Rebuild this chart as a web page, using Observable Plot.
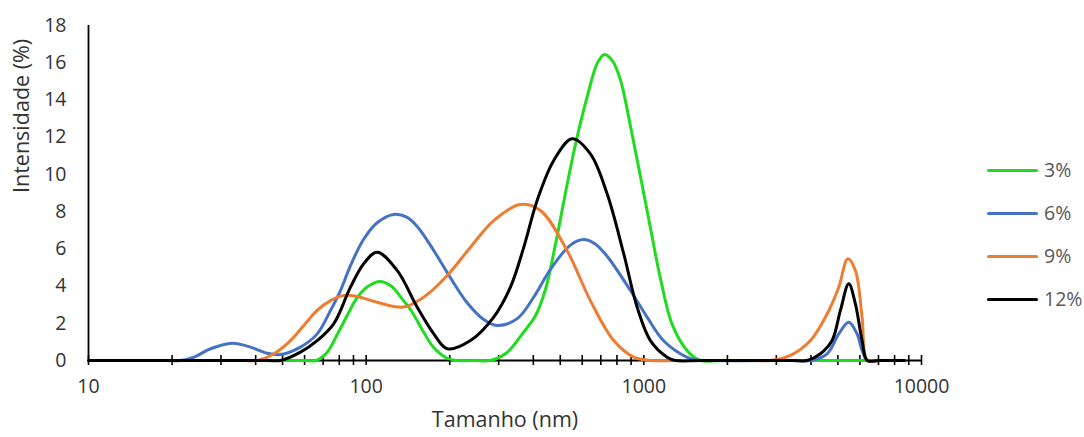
<!DOCTYPE html>
<html>
<head>
<meta charset="utf-8">
<script src="https://cdn.jsdelivr.net/npm/d3@7"></script>
<script src="https://cdn.jsdelivr.net/npm/@observablehq/plot@0.6"></script>
<style>
  html, body { margin: 0; padding: 0; background: #fff; }
  #wrap { position: relative; width: 1084px; height: 437px; font-family: "Open Sans", sans-serif; }
  #legend { position: absolute; left: 987px; top: 0; }
  .item { position: absolute; left: 0; display: flex; align-items: center; white-space: nowrap; }
  .sw { width: 51px; height: 3px; border-radius: 2px; margin-right: 6px; }
  .lab { font-size: 19.5px; color: #595959; line-height: 1; }
</style>
</head>
<body>
<div id="wrap"></div>
<script>
// Series labels and colours
const seriesNames = ["3%", "6%", "9%", "12%"];
const seriesColors = ["#1fdc1f", "#4472C4", "#ED7D31", "#000000"];

// X ticks (log scale)
const xLabelTicks = [10, 100, 1000, 10000];
const xMinorTicks = [10,20,30,40,50,60,70,80,90,100,200,300,400,500,600,700,800,900,1000,2000,3000,4000,5000,6000,7000,8000,9000,10000];
const yTicks = [0, 2, 4, 6, 8, 10, 12, 14, 16, 18];

// 3%
const size3 = [10, 60, 66, 72, 79, 86, 93, 102, 112, 123, 135, 145, 160, 175, 196, 213, 250, 280, 320, 368, 407, 442, 480, 522, 567, 626, 681, 721, 771, 823, 895, 972, 1057, 1148, 1268, 1447, 1600, 1900, 6900];
const val3  = [0, 0, 0, 0.4, 1.45, 2.5, 3.4, 4.0, 4.25, 4.0, 3.3, 2.7, 1.6, 0.7, 0.12, 0, 0, 0, 0.4, 1.5, 2.4, 3.8, 6.2, 9.0, 11.6, 14.2, 16.0, 16.44, 16.1, 15.1, 12.6, 9.9, 7.1, 4.4, 1.9, 0.45, 0, 0, 0];

// 6%
const size6 = [10, 19, 21.4, 24, 27.5, 32.9, 38.3, 44, 49, 58, 66.6, 74.4, 80.8, 87.8, 97.8, 109.5, 125.4, 140, 152.7, 175.3, 201, 231, 265, 296, 350, 401, 461, 544, 607.7, 670, 737.5, 895, 1027.6, 1176, 1354, 1510, 1800, 3500, 3981, 4571, 5035, 5470, 5861, 6109, 6376, 7000, 8700];
const val6  = [0, 0, 0, 0.18, 0.63, 0.93, 0.72, 0.39, 0.32, 0.72, 1.43, 2.69, 3.76, 5.1, 6.5, 7.4, 7.85, 7.7, 7.2, 5.9, 4.45, 3.1, 2.2, 1.88, 2.25, 3.4, 4.9, 6.2, 6.5, 6.25, 5.6, 3.76, 2.33, 1.07, 0.36, 0.05, 0, 0, 0, 0.36, 1.43, 2.06, 1.43, 0.54, 0, 0, 0];

// 9%
const size9 = [10, 36, 40.5, 46.5, 53.4, 59.6, 66.6, 74.4, 83.1, 92.8, 109.5, 136.6, 161, 196, 237.5, 288, 359.3, 424, 529, 642, 779, 920, 1057, 1300, 2500, 2857, 3373, 3981, 4571, 5035, 5426, 5780, 6109, 6376, 7000, 8700];
const val9  = [0, 0, 0, 0.36, 1.07, 1.88, 2.69, 3.22, 3.49, 3.44, 3.13, 2.87, 3.4, 4.57, 6.09, 7.52, 8.38, 8.06, 5.91, 3.22, 1.07, 0.18, 0, 0, 0, 0, 0.27, 1.07, 2.5, 3.94, 5.46, 4.84, 2.33, 0, 0, 0];

// 12%
const size12 = [10, 44, 49, 58, 66.6, 76.4, 87.8, 98, 109.5, 129.3, 152.6, 175.2, 196, 237.5, 288, 330.8, 369.6, 412.8, 473.8, 551.7, 642, 737.5, 846.6, 945.6, 1056, 1213, 1300, 1600, 3400, 3869, 4325, 4763, 5105, 5470, 5780, 6109, 6376, 7000, 8700];
const val12  = [0, 0, 0, 0.45, 1.07, 1.97, 3.94, 5.2, 5.82, 4.84, 2.87, 1.43, 0.63, 1.07, 2.33, 3.94, 6.09, 8.6, 10.75, 11.91, 11.1, 8.96, 5.73, 2.87, 1.07, 0.18, 0, 0, 0, 0, 0.36, 1.07, 2.69, 4.12, 3.04, 1.07, 0, 0, 0];

const allSizes = [size3, size6, size9, size12];
const allVals = [val3, val6, val9, val12];
const rows = allSizes.flatMap((sz, i) => sz.map((s, j) => ({series: seriesNames[i], size: s, value: allVals[i][j]})));

const font = "Open Sans, sans-serif";
const plot = Plot.plot({
  width: 1084,
  height: 437,
  marginLeft: 88,
  marginRight: 163,
  marginTop: 25,
  marginBottom: 77,
  style: {fontFamily: font, fontSize: "19.5px", color: "#333", background: "#fff"},
  x: {type: "log", domain: [10, 10000]},
  y: {domain: [0, 18]},
  color: {domain: seriesNames, range: seriesColors},
  marks: [
    Plot.axisY({ticks: yTicks, tickSize: 0, tickPadding: 22, tickFormat: d => String(d), label: null, fill: "#333"}),
    Plot.axisX({ticks: xLabelTicks, tickSize: 0, tickPadding: 19, tickFormat: d => String(d), label: null, fill: "#333"}),
    Plot.axisX({ticks: xMinorTicks, tickSize: 10, dy: -5, tickFormat: () => "", label: null, stroke: "#000", strokeWidth: 1.6}),
    Plot.ruleY([0], {stroke: "#000", strokeWidth: 1.8}),
    Plot.ruleX([10], {stroke: "#000", strokeWidth: 1.8}),
    Plot.line(rows, {x: "size", y: "value", z: "series", stroke: "series", strokeWidth: 3, curve: "catmull-rom"}),
    Plot.text(["Intensidade (%)"], {frameAnchor: "left", rotate: -90, dx: -66, fontSize: 21.5, fill: "#333"}),
    Plot.text(["Tamanho (nm)"], {frameAnchor: "bottom", dy: 66, fontSize: 21.5, fill: "#333"})
  ]
});

const wrap = document.getElementById("wrap");
wrap.appendChild(plot);
const legend = document.createElement("div");
legend.id = "legend";
const legendY = [170, 213, 256, 299];
seriesNames.forEach((n, i) => {
  const it = document.createElement("div");
  it.className = "item";
  it.style.top = (legendY[i] - 11) + "px";
  it.style.height = "22px";
  it.innerHTML = `<span class="sw" style="background:${seriesColors[i]}"></span><span class="lab">${n}</span>`;
  legend.appendChild(it);
});
wrap.appendChild(legend);
</script>
</body>
</html>
